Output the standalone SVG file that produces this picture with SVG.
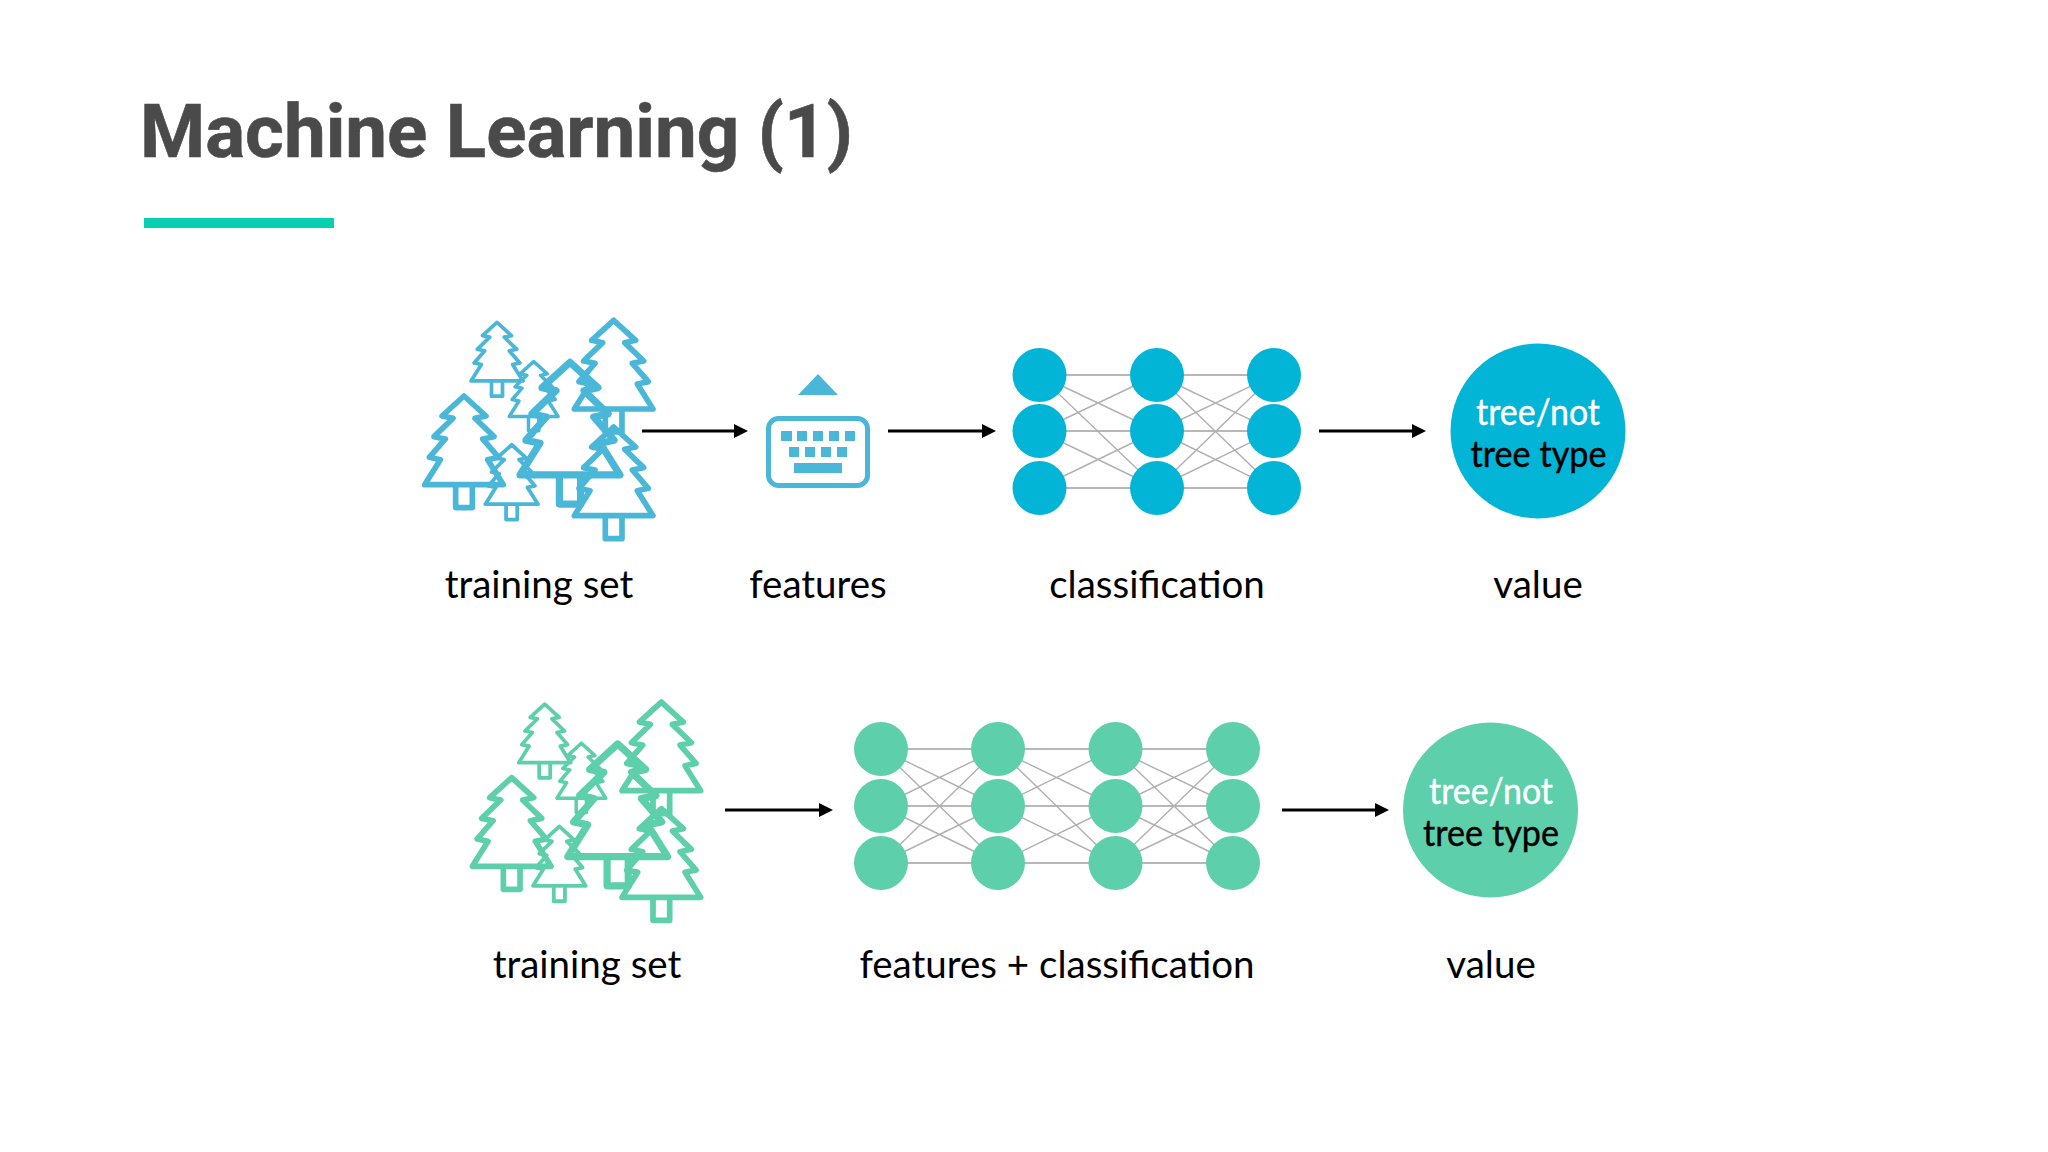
<svg xmlns="http://www.w3.org/2000/svg" xmlns:xlink="http://www.w3.org/1999/xlink" width="2048" height="1152" viewBox="0 0 2048 1152">
<style>
.lbl{font-family:"Lato","Liberation Sans",sans-serif;font-size:38.500px;fill:#000;text-anchor:middle}
.val{font-family:"Lato","Liberation Sans",sans-serif;font-size:37px;text-anchor:middle;stroke-width:.4}
.title{font-family:"Roboto","Liberation Sans",sans-serif;font-weight:700;font-size:74.500px;fill:#4a4a4a;stroke:#4a4a4a;stroke-width:.6}
.arrow{stroke:#000;stroke-width:3.2;fill:none;marker-end:url(#head)}
.h{stroke:#b8b8b8;stroke-width:2;fill:none}
.d{stroke:#b0b0b0;stroke-width:1.4;fill:none}
.nb{fill:#02b4d5}
.ng{fill:#5dcfaa}
.tree{fill:none;stroke-width:17;stroke-linejoin:round}
</style>
<defs>
<marker id="head" markerUnits="userSpaceOnUse" markerWidth="15" markerHeight="15" refX="0" refY="7.500" orient="auto"><path d="M0,0.500 L14,7.500 L0,14.500 z" fill="#000"/></marker>
<g id="t"><path d="M0,-4 L66,56 L33,63 L90,118 L56,125 L104,180 L71,187 L118,262 L-118,262 L-71,187 L-104,180 L-56,125 L-90,118 L-33,63 L-66,56 Z M-25,262 V331 H25 V262"/></g>
<g id="forest">
<use xlink:href="#t" href="#t" transform="translate(261,70) scale(.66)"/>
<use xlink:href="#t" href="#t" transform="translate(371,187) scale(.62)"/>
<use xlink:href="#t" href="#t" transform="translate(611,65)"/>
<use xlink:href="#t" href="#t" transform="translate(480,192) scale(1.27)"/>
<use xlink:href="#t" href="#t" transform="translate(162,292)"/>
<use xlink:href="#t" href="#t" transform="translate(305,437) scale(.67)"/>
<use xlink:href="#t" href="#t" transform="translate(611,385)"/>
</g>
</defs>
<rect width="2048" height="1152" fill="#fff"/>
<g id="header">
<text class="title" x="140" y="157">Machine Learning (1)</text>
<rect x="144" y="218" width="190" height="10" fill="#05d0b1"/>
</g>
<g id="connectors">
<line class="arrow" x1="642" y1="431" x2="734" y2="431"/>
<line class="arrow" x1="888" y1="431" x2="982" y2="431"/>
<line class="arrow" x1="1319" y1="431" x2="1412" y2="431"/>
<line class="arrow" x1="725" y1="810" x2="819" y2="810"/>
<line class="arrow" x1="1282" y1="810" x2="1375" y2="810"/>
</g>
<g id="training-set-1">
<g class="tree" stroke="#4ab7d8" transform="translate(410,300) scale(.3333)"><use xlink:href="#forest" href="#forest"/></g>
<text class="lbl" x="539" y="597.500">training set</text>
</g>
<g id="features">
<path d="M818,374 L838,395 H798 Z" fill="#4ab7d8"/>
<rect x="768.500" y="418.500" width="99" height="67" rx="10" fill="none" stroke="#4ab7d8" stroke-width="5"/>
<g fill="#4ab7d8">
<rect x="781" y="431" width="11" height="10"/><rect x="797" y="431" width="10" height="10"/><rect x="813" y="431" width="10" height="10"/><rect x="829" y="431" width="10" height="10"/><rect x="845" y="431" width="10" height="10"/>
<rect x="789" y="447" width="10" height="10"/><rect x="805" y="447" width="10" height="10"/><rect x="821" y="447" width="10" height="10"/><rect x="837" y="447" width="10" height="10"/>
<rect x="794" y="463" width="48" height="10"/>
</g>
<text class="lbl" x="818" y="597.500">features</text>
</g>
<g id="classification">
<g class="h"><path d="M1039,375H1274M1039,431H1274M1039,488H1274"/></g>
<g class="d"><path d="M1039,375L1157,431M1039,375L1157,488M1039,431L1157,375M1039,431L1157,488M1039,488L1157,431M1157,375L1274,431M1157,375L1274,488M1157,431L1274,375M1157,431L1274,488M1157,488L1274,431M1157,488L1274,375"/></g>
<g class="nb">
<circle cx="1039.500" cy="375" r="27"/><circle cx="1039.500" cy="431" r="27"/><circle cx="1039.500" cy="488" r="27"/>
<circle cx="1157" cy="375" r="27"/><circle cx="1157" cy="431" r="27"/><circle cx="1157" cy="488" r="27"/>
<circle cx="1274" cy="375" r="27"/><circle cx="1274" cy="431" r="27"/><circle cx="1274" cy="488" r="27"/>
</g>
<text class="lbl" x="1157" y="597.500">classification</text>
</g>
<g id="value-1">
<circle class="nb" cx="1538" cy="431" r="87.500"/>
<text class="val" x="1538" y="425" fill="#fff" stroke="#fff" textLength="124" lengthAdjust="spacingAndGlyphs">tree/not</text>
<text class="val" x="1538.500" y="467" fill="#000" stroke="#000" textLength="136" lengthAdjust="spacingAndGlyphs">tree type</text>
<text class="lbl" x="1538" y="597.500">value</text>
</g>
<g id="training-set-2">
<g class="tree" stroke="#5dcfaa" transform="translate(457.700,681.700) scale(.3333)"><use xlink:href="#forest" href="#forest"/></g>
<text class="lbl" x="587" y="977.500">training set</text>
</g>
<g id="features-classification">
<g class="h"><path d="M881,749H1233M881,806H1233M881,863H1233"/></g>
<g class="d"><path d="M881,749L998,806M881,749L998,863M881,806L998,749M881,806L998,863M881,863L998,806M881,863L998,749M998,749L1115,806M998,749L1115,863M998,806L1115,749M998,806L1115,863M998,863L1115,806M1115,749L1233,806M1115,749L1233,863M1115,806L1233,749M1115,806L1233,863M1115,863L1233,806M1115,863L1233,749"/></g>
<g class="ng">
<circle cx="881" cy="749" r="27"/><circle cx="881" cy="806" r="27"/><circle cx="881" cy="863" r="27"/>
<circle cx="998" cy="749" r="27"/><circle cx="998" cy="806" r="27"/><circle cx="998" cy="863" r="27"/>
<circle cx="1115.500" cy="749" r="27"/><circle cx="1115.500" cy="806" r="27"/><circle cx="1115.500" cy="863" r="27"/>
<circle cx="1233" cy="749" r="27"/><circle cx="1233" cy="806" r="27"/><circle cx="1233" cy="863" r="27"/>
</g>
<text class="lbl" x="1057" y="977.500">features + classification</text>
</g>
<g id="value-2">
<circle class="ng" cx="1490.500" cy="810" r="87.500"/>
<text class="val" x="1491" y="804" fill="#fff" stroke="#fff" textLength="124" lengthAdjust="spacingAndGlyphs">tree/not</text>
<text class="val" x="1491" y="846" fill="#000" stroke="#000" textLength="136" lengthAdjust="spacingAndGlyphs">tree type</text>
<text class="lbl" x="1491" y="977.500">value</text>
</g>
</svg>
